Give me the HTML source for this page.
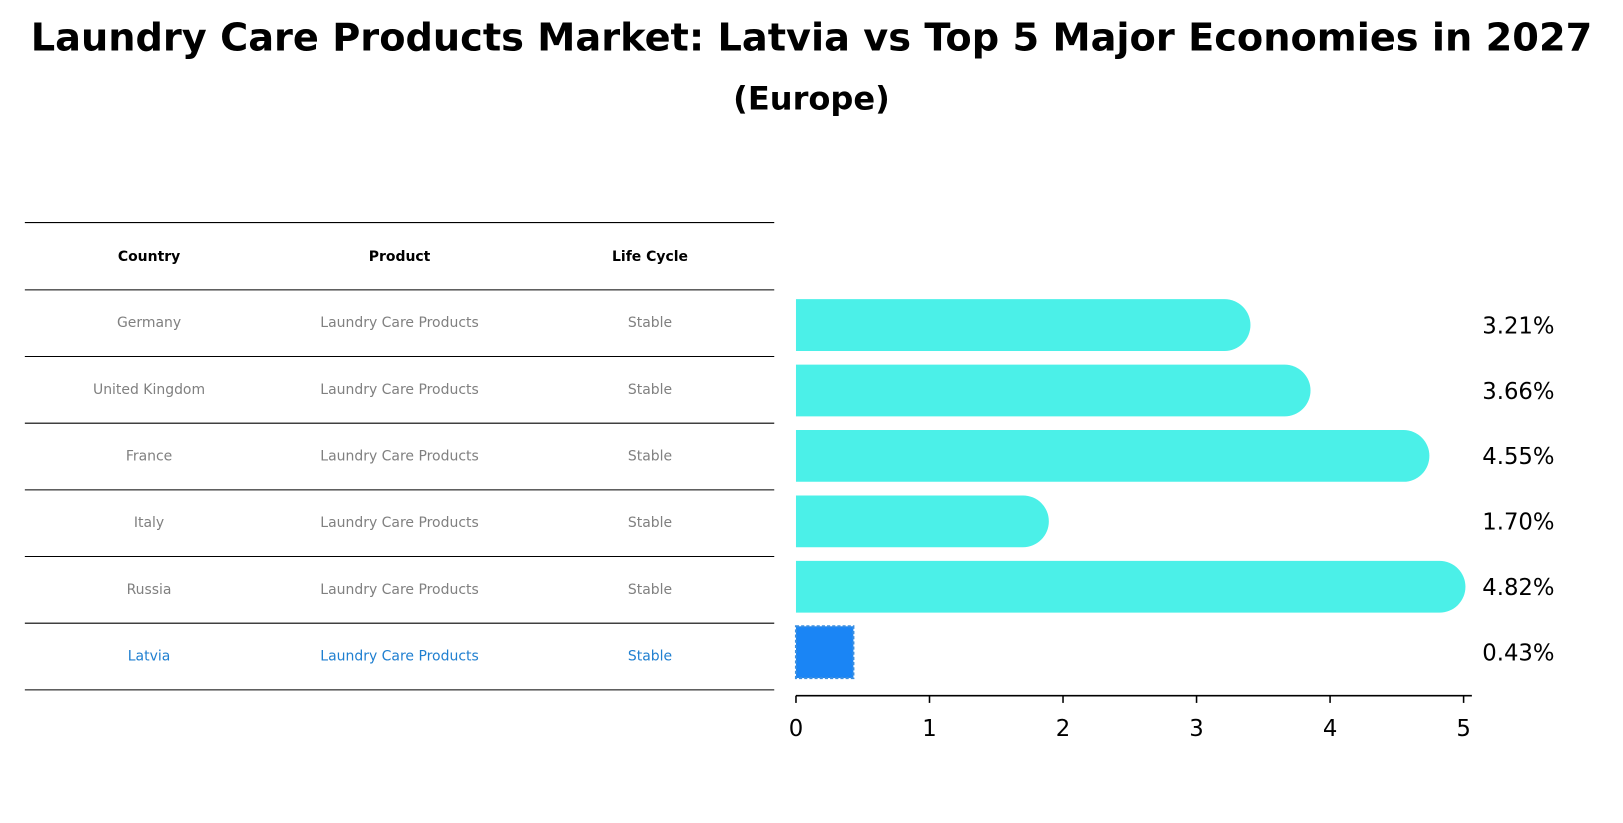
<!DOCTYPE html>
<html><head><meta charset="utf-8"><style>
body{margin:0;background:#fff;}
svg{display:block;font-family:"DejaVu Sans","Liberation Sans",sans-serif;}
</style></head><body>
<svg id="chart" width="1623" height="823" viewBox="0 0 1568 795" preserveAspectRatio="none">
<text x="784" y="49" text-anchor="middle" font-size="37" font-weight="bold">Laundry Care Products Market: Latvia vs Top 5 Major Economies in 2027</text>
<text x="784" y="106" text-anchor="middle" font-size="31" font-weight="bold">(Europe)</text>
<g id="table"></g>
<g id="bars"></g>
<g id="axis"></g>
</svg>
<script>
const countries = ["Germany","United Kingdom","France","Italy","Russia","Latvia"];
const products = ["Laundry Care Products","Laundry Care Products","Laundry Care Products","Laundry Care Products","Laundry Care Products","Laundry Care Products"];
const lifeCycles = ["Stable","Stable","Stable","Stable","Stable","Stable"];
const values = [3.21,3.66,4.55,1.70,4.82,0.43];
const xTicks = [0,1,2,3,4,5];

const NS="http://www.w3.org/2000/svg";
function mk(tag,attrs,parent,txt){const e=document.createElementNS(NS,tag);for(const k in attrs)e.setAttribute(k,attrs[k]);if(txt!==undefined)e.textContent=txt;parent.appendChild(e);return e;}
const x0=769, pxPerUnit=129;
const xs=v=>x0+v*pxPerUnit;
const rowY=i=>314+i*63.2;

const table=document.getElementById('table');
const lineYs=[215,280];
for(let i=0;i<countries.length;i++) lineYs.push(280+(i+1)*64.4);
lineYs.forEach((y,i)=>{const l=mk('line',{x1:24,x2:748,y1:y,y2:y,stroke:'#000','stroke-width':1},table);

});
const colX=[144,386,628];
["Country","Product","Life Cycle"].forEach((h,j)=>{const t=mk('text',{x:colX[j],y:252,'text-anchor':'middle','font-size':13.5,'font-weight':'bold'},table,h);

});
countries.forEach((c,i)=>{
  const y=280+i*64.4+36;
  const col=(i===countries.length-1)?'#1f7fd0':'#808080';
  [c,products[i],lifeCycles[i]].forEach((v,j)=>{const t=mk('text',{x:colX[j],y:y,'text-anchor':'middle','font-size':13.5,fill:col},table,v);
  
  });
});

const bars=document.getElementById('bars');
const h=50;
values.forEach((v,i)=>{
  const cy=rowY(i), w=xs(v)-x0;
  let b;
  if(i===values.length-1){
    b=mk('rect',{x:x0,y:cy-h/2,width:w,height:h,fill:'#1a85f5',stroke:'#3b8fe0','stroke-width':2,'stroke-dasharray':'3,2'},bars);
  } else {
    const r=h/2;
    b=mk('path',{d:`M${x0},${cy-r} H${x0+w} A${r},${r} 0 0 1 ${x0+w},${cy+r} H${x0} Z`,fill:'#4bf0e8'},bars);
  }
  
  
  const t=mk('text',{x:1432,y:cy+8,'font-size':22},bars,v.toFixed(2)+'%');
  
  
});

const axis=document.getElementById('axis');
const al=mk('line',{x1:x0,x2:1422,y1:672,y2:672,stroke:'#000','stroke-width':1.5},axis);


xTicks.forEach(v=>{
  const tk=mk('line',{x1:xs(v),x2:xs(v),y1:672,y2:679,stroke:'#000','stroke-width':1.5},axis);
  
  
  const t=mk('text',{x:xs(v),y:711,'text-anchor':'middle','font-size':22},axis,String(v));
  
  
});
</script>
</body></html>
